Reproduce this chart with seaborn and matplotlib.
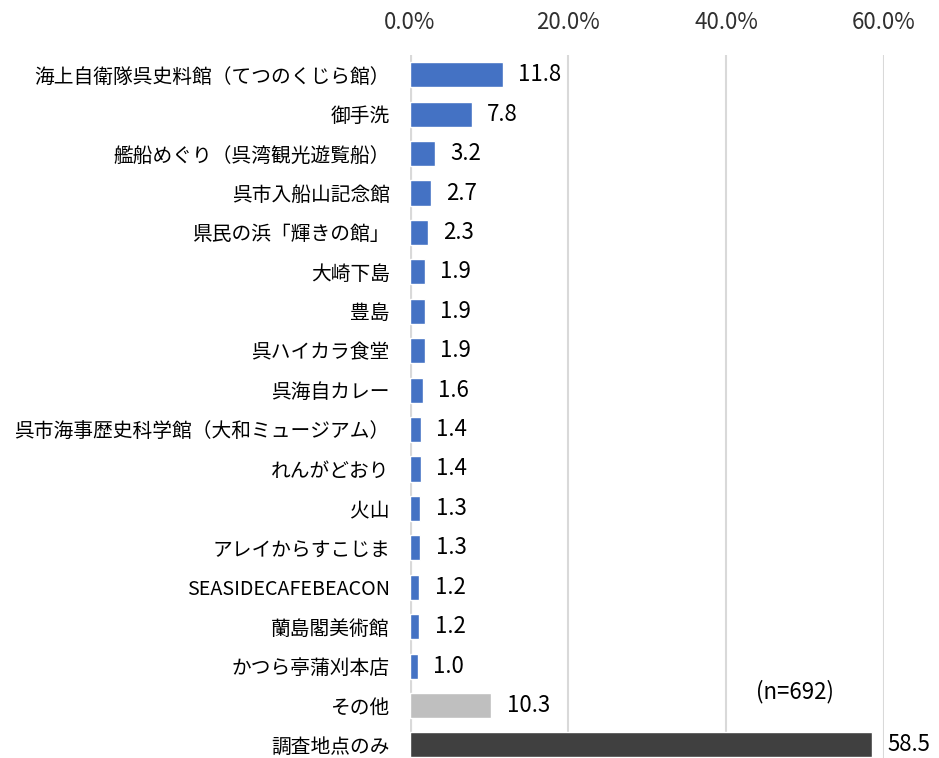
import matplotlib
matplotlib.use("Agg")
import matplotlib.pyplot as plt
import seaborn as sns
from matplotlib.ticker import FuncFormatter

# データ
labels = [
    "海上自衛隊呉史料館（てつのくじら館）",
    "御手洗",
    "艦船めぐり（呉湾観光遊覧船）",
    "呉市入船山記念館",
    "県民の浜「輝きの館」",
    "大崎下島",
    "豊島",
    "呉ハイカラ食堂",
    "呉海自カレー",
    "呉市海事歴史科学館（大和ミュージアム）",
    "れんがどおり",
    "火山",
    "アレイからすこじま",
    "SEASIDECAFEBEACON",
    "蘭島閣美術館",
    "かつら亭蒲刈本店",
    "その他",
    "調査地点のみ",
]
values = [11.8, 7.8, 3.2, 2.7, 2.3, 1.9, 1.9, 1.9, 1.6, 1.4, 1.4, 1.3, 1.3, 1.2, 1.2, 1.0, 10.3, 58.5]
colors = ["#4472C4"] * 16 + ["#BFBFBF", "#404040"]
x_ticks = [0, 20, 40, 60]
note = "(n=692)"

sns.set_theme(style="white")
plt.rcParams["font.family"] = ["Noto Sans CJK JP", "DejaVu Sans"]

fig = plt.figure(figsize=(9.39, 7.58), dpi=100)
ax = fig.add_axes([0.4366, -0.0088, 0.5048, 0.9362])

sns.barplot(x=values, y=labels, hue=labels, palette=colors, legend=False,
            width=0.635, saturation=1, ax=ax)

ax.set_xlim(0, 60)
ax.set_xticks(x_ticks)
ax.xaxis.set_major_formatter(FuncFormatter(lambda v, p: f"{v:.1f}%"))
ax.xaxis.tick_top()
ax.tick_params(axis="x", length=0, pad=15, labelsize=16, colors="#303030")
ax.tick_params(axis="y", length=0, pad=14.5, labelsize=14.2, colors="#000000")
ax.grid(axis="x", color="#D9D9D9", linewidth=1.5)
ax.set_axisbelow(True)
for s in ax.spines.values():
    s.set_visible(False)
ax.axvline(0, color="#D9D9D9", linewidth=3, zorder=0)
ax.set_xlabel("")
ax.set_ylabel("")

# 値ラベル
for i, v in enumerate(values):
    ax.annotate(f"{v:.1f}", xy=(v, i), xytext=(11, 0), textcoords="offset points",
                va="center", ha="left", fontsize=16, color="#000000",
                annotation_clip=False)

ax.text(43.8, 15.65, note, ha="left", va="center", fontsize=16, color="#000000")

fig.savefig("out.png", dpi=100)
